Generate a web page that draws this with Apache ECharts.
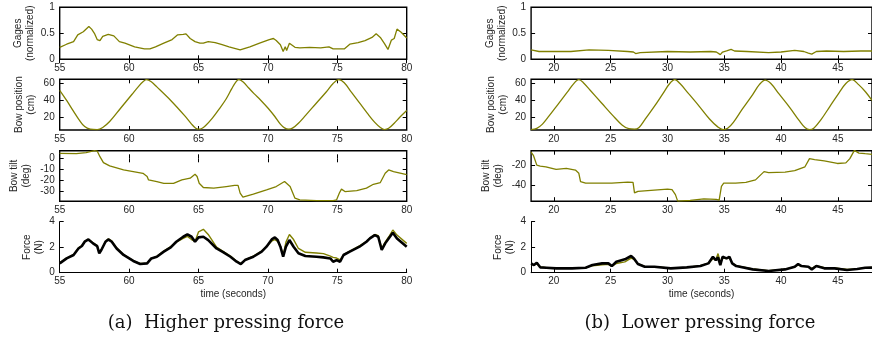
<!DOCTYPE html>
<html><head><meta charset="utf-8">
<script src="https://cdn.jsdelivr.net/npm/echarts@6/dist/echarts.min.js"></script>
<style>html,body{margin:0;padding:0;background:#fff}#c{width:872px;height:351px}</style>
</head><body><div id="c"></div>
<script>
// ---------- (a) Higher pressing force ----------
const gagesA_t = [55,55.5,56,56.3,56.7,57.1,57.2,57.3,57.4,57.5,57.7,57.9,58.1,58.5,58.9,59.3,59.7,60.4,61.1,61.5,61.9,62.5,63.1,63.5,63.9,64.1,64.4,64.75,65.1,65.35,65.7,66.2,66.7,67.2,67.6,68.0,68.7,69.4,70.1,70.4,70.6,70.9,71.1,71.25,71.35,71.55,71.7,71.95,72.3,73.0,73.8,74.4,74.7,75.2,75.5,75.9,76.5,77.0,77.5,77.8,78.1,78.4,78.65,78.9,79.1,79.3,79.6,80];
const gagesA_v = [.23,.29,.34,.47,.53,.63,.66,.58,.60,.50,.38,.36,.44,.48,.45,.34,.31,.24,.20,.20,.24,.31,.38,.47,.48,.49,.40,.34,.31,.31,.34,.32,.28,.24,.21,.18,.24,.31,.38,.40,.36,.28,.15,.24,.17,.31,.28,.23,.22,.23,.22,.24,.2,.2,.2,.29,.32,.36,.42,.49,.42,.30,.19,.37,.40,.58,.52,.41];
const bowA_t = [55,55.5,56,56.4,56.8,57.2,57.7,58.1,58.6,59.4,60.2,60.7,61,61.25,61.6,62,63,64,64.5,64.8,65,65.2,65.5,66,66.5,67,67.4,67.7,67.9,68.2,68.6,69,69.5,70,70.5,70.9,71.2,71.5,71.8,72.2,72.7,73.5,74.2,74.7,75.1,75.5,76,76.6,77.2,77.7,78.1,78.4,78.7,79.1,79.5,80];
const bowA_v = [52,40,27,17,9,6,5.5,8,15,31,47,57,62,64.5,62,56,40,22,12,7,6,6.5,10,19,30,42,54,62,64.5,62,55,48,40,31,21,12,7.5,6,7.5,13,22,37,50,60,64.5,61,50,37,24,14,8,5.5,7,13,20,28];
const tiltA_t = [55,56.2,56.9,57.5,57.7,57.9,58.15,58.6,59.6,60.3,61.0,61.3,61.4,62.0,62.5,63.2,63.8,64.4,64.75,64.9,65.05,65.35,66.1,67.0,67.6,67.85,68.0,68.2,68.95,69.9,70.6,71.2,71.3,71.6,71.95,72.3,73.5,74.7,74.95,75.15,75.3,75.55,76.4,77.1,77.6,78.1,78.45,78.7,79.05,80];
const tiltA_v = [4.6,4.3,5.2,7,6.7,1.5,-4,-7,-10.7,-12.2,-13.8,-16.8,-19.9,-21.4,-23,-23,-19.9,-18.3,-14.7,-16.8,-23,-26.9,-27.5,-26,-25,-25,-32,-35.8,-33,-29,-26,-21.4,-19.9,-26,-36.7,-38.2,-39,-39,-38.2,-32,-28.4,-30.6,-29.7,-27.5,-23.9,-22.3,-13.8,-10.7,-12.2,-15];
const forceA_t = [55,55.5,56,56.35,56.6,56.8,57.07,57.2,57.4,57.7,57.85,58,58.3,58.5,58.75,59.1,59.6,60.3,60.8,61.3,61.6,62,62.5,63,63.4,63.9,64.2,64.5,64.75,65,65.35,65.7,66.3,66.8,67.3,67.75,68.05,68.35,68.95,69.55,69.9,70.3,70.5,70.7,70.9,71.1,71.3,71.55,71.85,72.2,72.7,73.5,74,74.5,74.7,74.95,75.2,75.45,75.9,76.6,77.1,77.35,77.7,77.95,78.2,78.45,78.7,79,79.3,80];
const forceA_gage = [.78,1.15,1.42,1.95,2.12,2.45,2.62,2.7,2.35,2.12,1.6,1.8,2.45,2.65,2.5,1.95,1.42,.95,.72,.75,1.1,1.28,1.7,2.05,2.4,2.7,2.85,2.6,2.45,3.2,3.4,3.0,2.0,1.65,1.3,.9,.72,1.0,1.3,1.7,2.05,2.5,2.6,2.45,2.1,1.35,2.4,3.0,2.6,1.9,1.6,1.55,1.5,1.3,1.2,1.15,1.0,1.42,1.7,2.1,2.45,2.72,3.0,2.9,1.9,2.4,2.8,3.35,2.95,2.3];
const forceA_ref = [.73,1.12,1.39,1.9,2.09,2.43,2.61,2.75,2.3,2.09,1.52,1.78,2.43,2.61,2.43,1.9,1.39,.92,.68,.73,1.12,1.25,1.65,1.99,2.43,2.82,3.0,2.82,2.43,2.77,2.82,2.56,1.9,1.6,1.25,.86,.68,.99,1.25,1.65,2.04,2.64,2.77,2.56,2.04,1.25,2.04,2.56,2.04,1.52,1.31,1.25,1.2,1.12,.86,.99,.86,1.39,1.65,2.04,2.43,2.69,2.95,2.82,1.78,2.3,2.69,3.14,2.69,2.04];

// ---------- (b) Lower pressing force ----------
const gagesB_t = [18,18.7,21.5,23.1,24.8,26.5,27.0,27.2,27.6,30,32,33.8,34.3,34.65,34.85,35.2,35.6,35.9,37,38.9,40,41.2,42.0,42.4,42.7,43.1,44,45.5,47,48];
const gagesB_v = [.18,.15,.15,.18,.17,.15,.14,.11,.13,.15,.14,.15,.14,.09,.14,.16,.19,.16,.15,.13,.14,.17,.15,.12,.10,.15,.16,.15,.16,.16];
const bowB_t = [18,18.5,19,19.6,20.4,21.2,21.7,22.2,22.6,23.2,24.2,25.2,26,26.6,27.1,27.5,28,28.8,29.6,30.2,30.65,31.1,31.8,32.8,33.7,34.4,34.9,35.3,35.8,36.6,37.5,38.1,38.6,39.1,39.8,40.8,41.6,42.1,42.5,42.9,43.5,44.3,45.1,45.7,46.25,46.8,47.44,48];
const bowB_v = [5.5,7,12,22,36,50,59,64.5,61,52,37,22,11,6.5,6,8,17,32,48,60,64.5,60,49,33,18,9,5.5,7,14,30,47,59,64,60,48,31,16,8,5.5,7.5,17,33,49,60,64.5,59,50,40];
const tiltB_t = [18,18.2,18.5,18.8,19.3,20.2,21.1,21.9,22.2,22.35,22.8,23.7,25.1,26.5,26.97,27.1,27.4,28.55,30.0,30.4,30.7,30.9,32.0,33.2,34.3,34.55,34.75,34.95,36.0,36.9,37.75,38.5,38.9,40.35,41.2,42.1,42.5,42.95,43.8,44.95,45.7,46.05,46.45,46.85,47.4,48];
const tiltB_v = [-7.3,-10.5,-20,-21,-21.6,-24.1,-23.2,-24.8,-27.9,-35.9,-37.5,-37.5,-37.5,-36.5,-36.8,-47,-45.4,-44.4,-43.2,-43.8,-48.6,-54.9,-54.3,-52.7,-53.3,-54,-40.6,-37.5,-37.5,-36.8,-34.3,-26.3,-27.3,-26.7,-25.4,-21.6,-13.7,-14.6,-15.9,-18.4,-17.8,-13.7,-5.7,-8.3,-8.9,-9.5];
const forceB_t = [18,18.25,18.5,18.8,19.35,20.2,21.6,22.8,23.4,24.25,24.8,25.1,25.5,26.25,26.8,27.05,27.4,28,28.85,30.3,31.7,32.9,33.6,34,34.25,34.45,34.65,34.85,35.2,35.45,35.7,36.05,37.5,38.9,40.35,41.2,41.5,41.8,42.4,42.7,43.1,43.8,44.7,45.8,46.7,47.4,48];
const forceB_gage = [.65,.62,.7,.45,.4,.36,.35,.4,.55,.62,.65,.5,.72,.85,1.15,1.05,.7,.5,.48,.36,.42,.55,.75,1.1,1.0,1.5,.8,1.15,1.1,1.2,.75,.55,.3,.15,.28,.45,.62,.5,.48,.32,.55,.4,.38,.25,.3,.4,.42];
const forceB_ref = [.73,.6,.78,.42,.39,.34,.34,.39,.6,.73,.73,.52,.86,1.05,1.31,1.12,.68,.47,.47,.34,.42,.52,.73,1.25,.99,1.2,.6,1.25,1.12,1.25,.73,.52,.26,.13,.26,.47,.68,.52,.47,.26,.52,.34,.34,.21,.29,.39,.4];

// ---------- axes / labels ----------
const xTicksA = [55,60,65,70,75,80];
const xTicksB = [20,25,30,35,40,45];
const yNames = ['Gages\n(normalized)','Bow position\n(cm)','Bow tilt\n(deg)','Force\n(N)'];
const xName = 'time (seconds)';
const captions = ['(a)  Higher pressing force','(b)  Lower pressing force'];

const OLIVE = '#808000', TXT = '#262626', FONT = 'Liberation Sans';
const rows = [{top:7.3,h:52},{top:79.3,h:50.7},{top:150.7,h:50.5},{top:221.7,h:51}];
const cols = [{left:59.7,width:347},{left:531.1,width:347}];

const grids=[], xAxes=[], yAxes=[], series=[];
const tick = {show:true, inside:true, length:4, lineStyle:{color:'#000', width:1}};
const lbl = {color:TXT, fontFamily:FONT, fontSize:10};
const pairs = (t,v)=>t.map((x,i)=>[x,v[i]]);

function panel(c,r,xr,yr,nameGap,boxed,lines){
  const gi = grids.length;
  grids.push({left:cols[c].left, top:rows[r].top, width:cols[c].width, height:rows[r].h,
    show:boxed, borderColor:'#000', borderWidth:1.4, backgroundColor:'transparent', containLabel:false});
  const xt = c===0 ? xTicksA : xTicksB;
  const xbase = {gridIndex:gi, type:'value', min:xr[0], max:xr[1], splitLine:{show:false}};
  xAxes.push(Object.assign({}, xbase, {position:'bottom',
    axisLine:{show:!boxed, lineStyle:{color:'#000', width:1}},
    axisTick:Object.assign({}, tick, {customValues:xt}),
    axisLabel:Object.assign({}, lbl, {margin:4, customValues:xt}),
    name: r===3 ? xName : '', nameLocation:'middle', nameGap:17,
    nameTextStyle:{color:TXT, fontFamily:FONT, fontSize:10}}));
  if (boxed) xAxes.push(Object.assign({}, xbase, {position:'top', axisLine:{show:false},
    axisTick:Object.assign({}, tick, {customValues:xt}), axisLabel:{show:false}}));
  const ybase = {gridIndex:gi, type:'value', min:yr[0], max:yr[1], splitLine:{show:false}};
  yAxes.push(Object.assign({}, ybase, {position:'left',
    axisLine:{show:!boxed, lineStyle:{color:'#000', width:1}},
    axisTick:Object.assign({}, tick, {customValues:yr[2]}),
    axisLabel:Object.assign({}, lbl, {margin:5, customValues:yr[2]}),
    name:yNames[r], nameLocation:'middle', nameRotate:90, nameGap:nameGap,
    nameTextStyle:{color:TXT, fontFamily:FONT, fontSize:10, lineHeight:12}}));
  const yIdx = yAxes.length-1, xIdx = xAxes.length - (boxed?2:1);
  if (boxed) yAxes.push(Object.assign({}, ybase, {position:'right', axisLine:{show:false},
    axisTick:Object.assign({}, tick, {customValues:yr[2]}), axisLabel:{show:false}}));
  lines.forEach(l=>series.push({type:'line', xAxisIndex:xIdx, yAxisIndex:yIdx, data:l.d,
    showSymbol:false, symbol:'none', smooth:l.s||false, clip:true, silent:true,
    lineStyle:{color:l.c, width:l.w}, z:l.z||2}));
}

panel(0,0,[55,80],[0,1,[0,0.5,1]],23,true,[{d:pairs(gagesA_t,gagesA_v),c:OLIVE,w:1.3}]);
panel(0,1,[55,80],[5,65,[20,40,60]],22,true,[{d:pairs(bowA_t,bowA_v),c:OLIVE,w:1.3,s:0.35}]);
panel(0,2,[55,80],[-39.5,7,[-30,-20,-10,0]],27,true,[{d:pairs(tiltA_t,tiltA_v),c:OLIVE,w:1.3}]);
panel(0,3,[55,80],[0,4,[0,2,4]],14,false,[{d:pairs(forceA_t,forceA_gage),c:OLIVE,w:1.4},{d:pairs(forceA_t,forceA_ref),c:'#000',w:2.6,z:3}]);
panel(1,0,[18,48],[0,1,[0,0.5,1]],22,true,[{d:pairs(gagesB_t,gagesB_v),c:OLIVE,w:1.3}]);
panel(1,1,[18,48],[5,65,[20,40,60]],22,true,[{d:pairs(bowB_t,bowB_v),c:OLIVE,w:1.3,s:0.35}]);
panel(1,2,[18,48],[-55,-6,[-40,-20]],27,true,[{d:pairs(tiltB_t,tiltB_v),c:OLIVE,w:1.3}]);
panel(1,3,[18,48],[0,4,[0,2,4]],15,false,[{d:pairs(forceB_t,forceB_gage),c:OLIVE,w:1.4},{d:pairs(forceB_t,forceB_ref),c:'#000',w:2.6,z:3}]);

const chart = echarts.init(document.getElementById('c'), null, {renderer:'canvas'});
chart.setOption({
  animation:false, backgroundColor:'#fff',
  grid:grids, xAxis:xAxes, yAxis:yAxes, series:series,
  graphic:[
    {type:'text', x:226, y:323, style:{text:captions[0], fontFamily:'DejaVu Serif', fontSize:18, fill:'#111', align:'center', verticalAlign:'middle'}},
    {type:'text', x:700, y:323, style:{text:captions[1], fontFamily:'DejaVu Serif', fontSize:18, fill:'#111', align:'center', verticalAlign:'middle'}}
  ]
});
</script></body></html>
